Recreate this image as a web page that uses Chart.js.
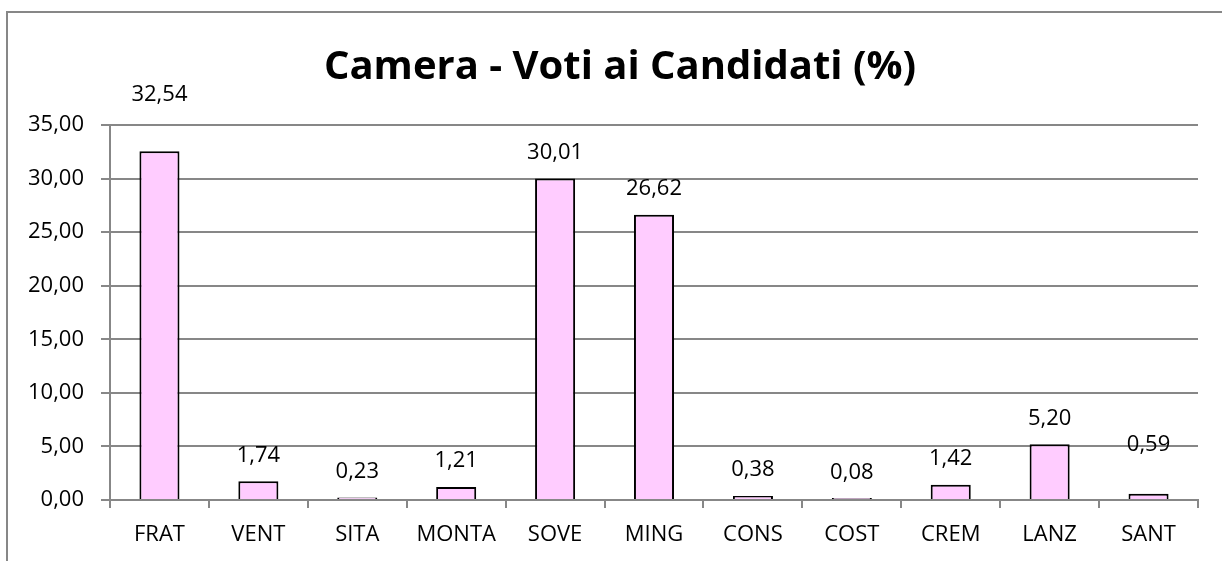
<!DOCTYPE html>
<html>
<head>
<meta charset="utf-8">
<script src="https://cdn.jsdelivr.net/npm/chart.js@4.4.1/dist/chart.umd.min.js"></script>
<style>
  html, body { margin: 0; padding: 0; background: #fff; overflow: hidden; }
  #wrap { position: relative; width: 1222px; height: 561px; }
  #frame { position: absolute; left: 6px; top: 11px; width: 1300px; height: 700px;
           border-left: 2px solid #878787; border-top: 2px solid #878787; }
  canvas { position: absolute; left: 0; top: 0; }
</style>
</head>
<body>
<div id="wrap">
  <div id="frame"></div>
  <canvas id="chart" width="1222" height="561"></canvas>
</div>
<script>
const candidates = ['FRAT', 'VENT', 'SITA', 'MONTA', 'SOVE', 'MING', 'CONS', 'COST', 'CREM', 'LANZ', 'SANT'];
const votePercent = [32.54, 1.74, 0.23, 1.21, 30.01, 26.62, 0.38, 0.08, 1.42, 5.20, 0.59];
const yTicks = [0, 5, 10, 15, 20, 25, 30, 35];

// labels that were dragged higher in the original
const labelLift = [31, 0, 0, 0, 0, 0, 0, 0, 0, 0, 23];

const fmt = v => v.toFixed(2).replace('.', ',');
const font = '"Open Sans", "DejaVu Sans", sans-serif';

const valueLabels = {
  id: 'valueLabels',
  afterDatasetsDraw(chart) {
    const ctx = chart.ctx;
    const meta = chart.getDatasetMeta(0);
    const zero = chart.scales.y.getPixelForValue(0);
    ctx.save();
    ctx.font = '22px ' + font;
    ctx.fillStyle = '#000';
    ctx.textAlign = 'center';
    ctx.textBaseline = 'middle';
    meta.data.forEach((bar, i) => {
      const top = chart.scales.y.getPixelForValue(votePercent[i]);
      ctx.fillText(fmt(votePercent[i]), bar.x, Math.min(top, zero) - 26 - labelLift[i]);
    });
    ctx.restore();
  }
};

const bigTitle = {
  id: 'bigTitle',
  afterDraw(chart) {
    const ctx = chart.ctx;
    ctx.save();
    ctx.font = 'bold 40px ' + font;
    ctx.fillStyle = '#000';
    ctx.textAlign = 'center';
    ctx.textBaseline = 'middle';
    ctx.fillText('Camera - Voti ai Candidati (%)', 620, 68);
    ctx.restore();
  }
};

new Chart(document.getElementById('chart'), {
  type: 'bar',
  data: {
    labels: candidates,
    datasets: [{
      data: votePercent,
      backgroundColor: '#FFCCFF',
      borderColor: '#000',
      borderWidth: 2,
      minBarLength: 2,
      barPercentage: 0.405,
      categoryPercentage: 1
    }]
  },
  options: {
    responsive: false,
    animation: false,
    layout: { padding: { top: 125, right: 24, left: 0, bottom: 0 } },
    plugins: { legend: { display: false }, tooltip: { enabled: false }, title: { display: false } },
    scales: {
      x: {
        grid: { drawOnChartArea: false, drawTicks: true, tickLength: 8, color: '#878787', lineWidth: 2 },
        border: { color: '#878787', width: 2 },
        ticks: { color: '#000', font: { family: font, size: 22 }, padding: 14, maxRotation: 0 },
        afterFit(scale) { scale.height = 61; }
      },
      y: {
        min: 0,
        max: 35,
        afterBuildTicks(scale) { scale.ticks = yTicks.map(v => ({ value: v })); },
        grid: { color: '#878787', lineWidth: 2, tickLength: 9 },
        border: { color: '#878787', width: 2 },
        ticks: { color: '#000', font: { family: font, size: 22 }, padding: 17, callback: v => fmt(v) },
        afterFit(scale) { scale.width = 110; }
      }
    }
  },
  plugins: [valueLabels, bigTitle]
});
</script>
</body>
</html>
